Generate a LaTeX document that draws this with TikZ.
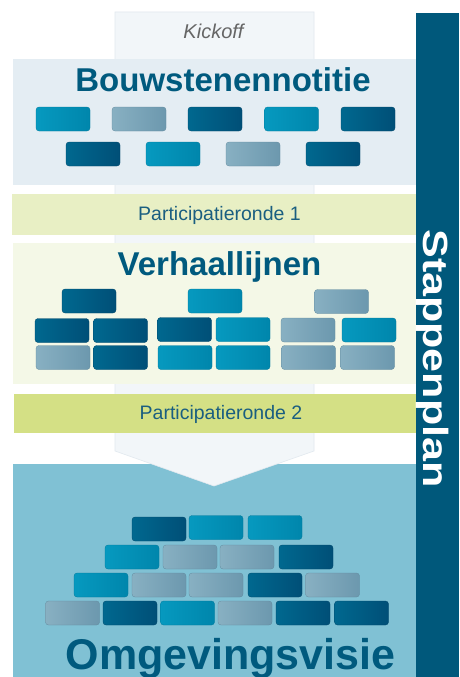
\documentclass[tikz,border=0pt]{standalone}
\usepackage{fontspec}
\setmainfont{Liberation Sans}
\definecolor{tealL}{HTML}{0699BF}
\definecolor{tealR}{HTML}{0086AC}
\definecolor{darkL}{HTML}{00688F}
\definecolor{darkR}{HTML}{004F77}
\definecolor{grayL}{HTML}{88B0C2}
\definecolor{grayR}{HTML}{6C98AE}
\definecolor{boxA}{HTML}{E4EDF3}
\definecolor{partA}{HTML}{E8EFC4}
\definecolor{boxB}{HTML}{F4F8E7}
\definecolor{partB}{HTML}{D4E085}
\definecolor{boxC}{HTML}{80C1D4}
\definecolor{barC}{HTML}{00587B}
\definecolor{arrowC}{HTML}{F2F6F9}
\definecolor{arrowE}{HTML}{E2E9EF}
\definecolor{titleC}{HTML}{005A7E}
\definecolor{partT}{HTML}{1A5E80}
\definecolor{kickT}{HTML}{666666}
\begin{document}
\begin{tikzpicture}[x=1pt,y=-1pt,
  brick/.style={rounded corners=3pt, minimum width=54pt, minimum height=24pt, inner sep=0pt, shading angle=90},
  tb/.style={brick, left color=tealL, right color=tealR, draw=tealR!90!black, line width=0.3pt},
  db/.style={brick, left color=darkL, right color=darkR, draw=darkR!90!black, line width=0.3pt},
  gb/.style={brick, left color=grayL, right color=grayR, draw=grayR!90!black, line width=0.3pt},
  title/.style={font=\bfseries\fontsize{33}{33}\selectfont, text=titleC, anchor=base, inner sep=0pt},
  parttext/.style={font=\fontsize{19.5}{19.5}\selectfont, text=partT, anchor=base, inner sep=0pt}]
\useasboundingbox (0,0) rectangle (459,677);
\fill[white] (0,0) rectangle (459,677);
% bottom blue panel
\fill[boxC] (13,464) rectangle (416,677);
% arrow
\draw[fill=arrowC, draw=arrowE, line width=0.6pt] (115,12) -- (314,12) -- (314,451) -- (214,486) -- (115,451) -- cycle;
% panels
\fill[boxA] (13,59) rectangle (416,185);
\fill[partA] (12,194) rectangle (416,235);
\fill[boxB] (13,243) rectangle (416,384);
\fill[partB] (14,394) rectangle (416,433);
% right bar
\fill[barC] (416,13) rectangle (459,677);
% texts
\node[font=\itshape\fontsize{20}{20}\selectfont, text=kickT, anchor=base, inner sep=0pt] (kick) at (213.5,38) {Kickoff};
\node[title] (t1) at (223,92) {Bouwstenennotitie};
\node[parttext] (p1) at (219.5,220) {Participatieronde 1};
\node[title] (t2) at (219.5,275) {Verhaallijnen};
\node[parttext] (p2) at (221,419) {Participatieronde 2};
\node[font=\bfseries\fontsize{43}{43}\selectfont, text=titleC, anchor=base, inner sep=0pt] (t3) at (230.5,669) {Omgevingsvisie};
\node[font=\bfseries\fontsize{35}{35}\selectfont, text=white, anchor=base, inner sep=0pt, rotate=-90, xscale=1.23] (st) at (423,358.5) {Stappenplan};
% bricks: Bouwstenennotitie
\node[tb] (a1) at (63,119) {};
\node[gb] (a2) at (139,119) {};
\node[db] (a3) at (215,119) {};
\node[tb] (a4) at (291.5,119) {};
\node[db] (a5) at (368,119) {};
\node[db] (a6) at (93,154) {};
\node[tb] (a7) at (173,154) {};
\node[gb] (a8) at (253,154) {};
\node[db] (a9) at (333,154) {};
% bricks: Verhaallijnen
\node[db] (v1) at (89,301) {};
\node[db] (v2) at (62,330.5) {};
\node[db] (v3) at (120.5,330.5) {};
\node[gb] (v4) at (63,357.5) {};
\node[db] (v5) at (120.5,357.5) {};
\node[tb] (v6) at (215,301) {};
\node[db] (v7) at (184.5,329.5) {};
\node[tb] (v8) at (243,329.5) {};
\node[tb] (v9) at (185,357.5) {};
\node[tb] (v10) at (243,357.5) {};
\node[gb] (v11) at (341.5,301.5) {};
\node[gb] (v12) at (308,330) {};
\node[tb] (v13) at (369,330) {};
\node[gb] (v14) at (308.5,357.5) {};
\node[gb] (v15) at (367.5,357.5) {};
% bricks: Omgevingsvisie
\node[db] (o1) at (159,529) {};
\node[tb] (o2) at (216,527.5) {};
\node[tb] (o3) at (275,527.5) {};
\node[tb] (o4) at (132,557) {};
\node[gb] (o5) at (190,557) {};
\node[gb] (o6) at (247,557) {};
\node[db] (o7) at (306,557) {};
\node[tb] (o8) at (101,585) {};
\node[gb] (o9) at (159,585) {};
\node[gb] (o10) at (216,585) {};
\node[db] (o11) at (275,585) {};
\node[gb] (o12) at (332.5,585) {};
\node[gb] (o13) at (72.5,613) {};
\node[db] (o14) at (130,613) {};
\node[tb] (o15) at (187.5,613) {};
\node[gb] (o16) at (245,613) {};
\node[db] (o17) at (303,613) {};
\node[db] (o18) at (361.5,613) {};
\end{tikzpicture}
\end{document}
